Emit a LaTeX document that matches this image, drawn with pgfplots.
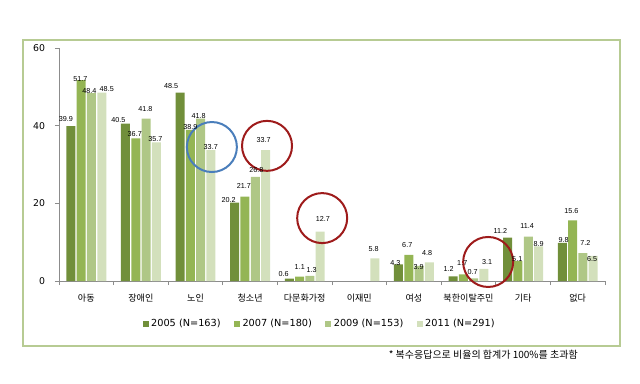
\documentclass[border=0pt]{standalone}
\usepackage{pgfplots}
\usepackage{pgfplotstable}
\pgfplotsset{compat=1.18}
\usepackage{fontspec}
\setmainfont{DejaVu Sans}
\newfontfamily\kr{Noto Sans CJK KR}
\newfontfamily\lab{Liberation Sans}
\definecolor{cA}{HTML}{718F3A}
\definecolor{cB}{HTML}{94B554}
\definecolor{cC}{HTML}{AFC786}
\definecolor{cD}{HTML}{D3E0BC}
\definecolor{frame}{HTML}{B7CB93}
\definecolor{axgray}{HTML}{8C8C8C}
\definecolor{cred}{HTML}{9E1B1B}
\definecolor{cblue}{HTML}{4A7EBB}
% x: category, y: value, dx/dy: label offset in px
\pgfplotstableread{
x y dx dy
0 39.9 -5 7
1 40.5 -7 4
2 48.5 -9 7
3 20.2 -6 3
4 0.6 -5.6 5
6 4.3 -3 1.5
7 1.2 -4.4 7
8 11.2 -7.2 7
9 9.8 1.4 3
}\tA
\pgfplotstableread{
x y dx dy
0 51.7 -0.7 1
1 36.7 -1 4.5
2 38.9 0 2.5
3 21.7 -1 11
4 1.1 0.2 10
6 6.7 -1.5 10
7 1.7 -1.1 11
8 5.1 -0.7 2.5
9 15.6 -1.1 9.4
}\tB
\pgfplotstableread{
x y dx dy
0 48.4 -2 2
1 41.8 -0.6 9.7
2 41.8 -2 3
3 26.8 1.1 7
4 1.3 1.8 6
6 3.9 -0.4 -1
7 0.7 -1 6.6
8 11.4 -1.1 10.7
9 7.2 2.6 10.3
}\tC
\pgfplotstableread{
x y dx dy
0 48.5 5 3.5
1 35.7 -0.9 3.7
2 33.7 -0.2 3
3 33.7 -1.9 10
4 12.7 2.8 12.7
5 5.8 -1.1 9.5
6 4.8 -2.2 9
7 3.1 3.2 6.7
8 8.9 0.1 2
9 6.5 -1 -3
}\tD
\begin{document}
\begin{tikzpicture}
\path[use as bounding box] (0,0) rectangle (480pt,287.25pt);
\draw[frame, line width=1.5pt] (17.25pt,27.75pt) rectangle (465pt,257.25pt);
\begin{axis}[
  at={(44.25pt,76.5pt)}, anchor=south west,
  scale only axis, width=409.5pt, height=174.75pt,
  xmin=-0.5, xmax=9.5, ymin=0, ymax=60,
  ybar=0.975pt, bar width=6.75pt,
  axis x line*=bottom, axis y line*=left,
  axis line style={axgray, line width=0.6pt},
  xtick={0,...,9},
  xticklabels={아동,장애인,노인,청소년,다문화가정,이재민,여성,북한이탈주민,기타,없다},
  xticklabel style={font=\kr\fontsize{6.8}{8}\selectfont, yshift=-3pt},
  major x tick style={draw=none},
  minor xtick={-0.5,0.5,...,9.5},
  minor tick length=3pt,
  ytick={0,20,40,60},
  yticklabel style={font=\fontsize{7}{8}\selectfont, xshift=-4pt},
  major tick length=3pt,
  tick align=outside,
  tick style={axgray, line width=0.6pt},
  /pgf/number format/assume math mode=true,
  clip=false,
  visualization depends on={\thisrow{dx} \as \dx},
  visualization depends on={\thisrow{dy} \as \dy},
  nodes near coords,
  every node near coord/.append style={font=\lab\fontsize{5.4}{6}\selectfont, inner sep=0pt, black,
    anchor=center, xshift={(\dx)*0.75pt}, yshift={(\dy)*0.75pt}},
  legend style={at={(0.478,-0.185)}, anchor=center, draw=none, fill=none,
    legend columns=4, font=\fontsize{7.3}{8}\selectfont,
    /tikz/every even column/.append style={column sep=8pt}},
  legend image code/.code={\fill[#1] (0pt,-2.2pt) rectangle (4.4pt,2.2pt);},
]
\addplot[fill=cA, draw=none] table[x=x,y=y] {\tA};
\addplot[fill=cB, draw=none] table[x=x,y=y] {\tB};
\addplot[fill=cC, draw=none] table[x=x,y=y] {\tC};
\addplot[fill=cD, draw=none] table[x=x,y=y] {\tD};
\legend{2005 (N=163),2007 (N=180),2009 (N=153),2011 (N=291)}
\draw[cblue, line width=1.5pt] (axis cs:2.30,34.5) circle[radius=18.75pt];
\draw[cred, line width=1.5pt] (axis cs:3.31,34.8) circle[radius=18.75pt];
\draw[cred, line width=1.5pt] (axis cs:4.32,16.2) circle[radius=18.75pt];
\draw[cred, line width=1.5pt] (axis cs:7.36,4.9) circle[radius=18.75pt];
\end{axis}
\node[anchor=east, font=\kr\fontsize{7.5}{9}\selectfont, inner sep=0pt] at (433.5pt,21pt) {* 복수응답으로 비율의 합계가 100\%를 초과함};
\end{tikzpicture}
\end{document}
